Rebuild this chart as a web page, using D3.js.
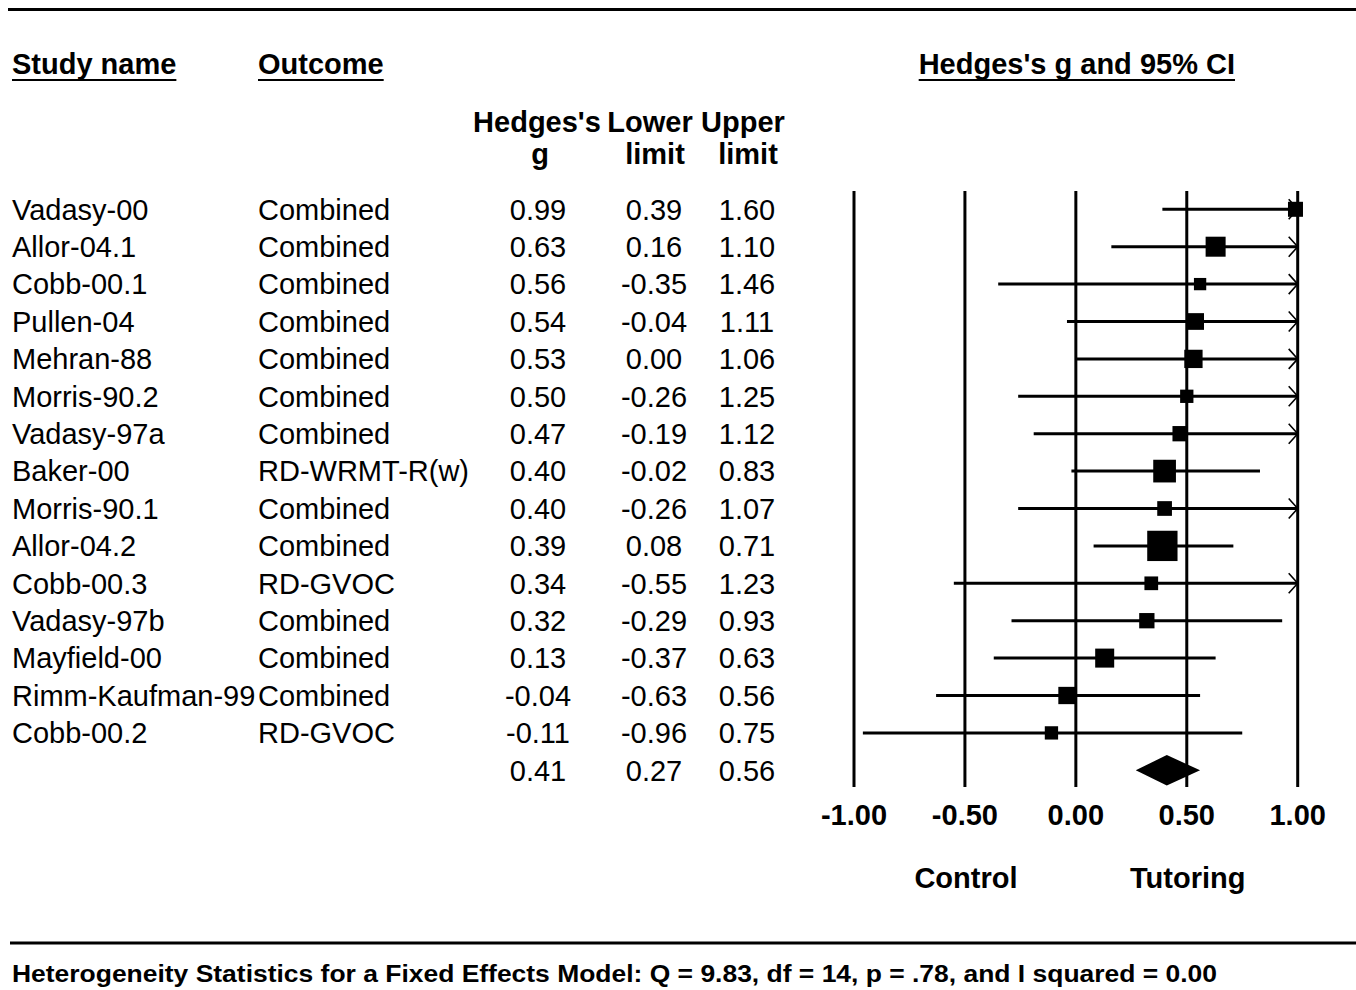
<!DOCTYPE html>
<html>
<head>
<meta charset="utf-8">
<script src="https://cdn.jsdelivr.net/npm/d3@7"></script>
<style>
  html, body { margin: 0; padding: 0; background: #fff; }
  svg { display: block; font-family: "Liberation Sans", Arial, Helvetica, sans-serif; }
</style>
</head>
<body>
<svg id="chart" width="1356" height="990"></svg>
<script>
// ---- data ----
const studies = ["Vadasy-00","Allor-04.1","Cobb-00.1","Pullen-04","Mehran-88","Morris-90.2","Vadasy-97a","Baker-00","Morris-90.1","Allor-04.2","Cobb-00.3","Vadasy-97b","Mayfield-00","Rimm-Kaufman-99","Cobb-00.2"];
const outcomes = ["Combined","Combined","Combined","Combined","Combined","Combined","Combined","RD-WRMT-R(w)","Combined","Combined","RD-GVOC","Combined","Combined","Combined","RD-GVOC"];
const hedgesG = [0.99,0.63,0.56,0.54,0.53,0.50,0.47,0.40,0.40,0.39,0.34,0.32,0.13,-0.04,-0.11];
const lowerLimit = [0.39,0.16,-0.35,-0.04,0.00,-0.26,-0.19,-0.02,-0.26,0.08,-0.55,-0.29,-0.37,-0.63,-0.96];
const upperLimit = [1.60,1.10,1.46,1.11,1.06,1.25,1.12,0.83,1.07,0.71,1.23,0.93,0.63,0.56,0.75];
// relative weights (%)
const weights = [4.78,8.49,3.21,5.92,7.11,3.76,4.97,10.94,4.59,19.49,3.99,4.97,7.67,6.35,3.76];
const summary = {g: 0.41, lower: 0.27, upper: 0.56};
const axisTicks = [-1.00,-0.50,0.00,0.50,1.00];
const headerCols = ["Study name","Outcome"];
const statHeaders = [["Hedges's","g"],["Lower","limit"],["Upper","limit"]];
const plotTitle = "Hedges's g and 95% CI";
const sideLabels = ["Control","Tutoring"];
const sideValues = [-0.5, 0.5];
const footer = "Heterogeneity Statistics for a Fixed Effects Model: Q = 9.83, df = 14, p = .78, and I squared = 0.00";

// ---- layout ----
const svg = d3.select("#chart");
const fmt0 = d3.format(".2f");
const fmt = v => fmt0(v).replace("\u2212", "-");
const x = d3.scaleLinear().domain([-1, 1]).range([854, 1297.7]);
const nRows = studies.length + 1;
const y = d3.scaleLinear().domain([0, nRows - 1]).range([209.3, 209.3 + 37.4 * (nRows - 1)]);
const boxSize = d3.scaleSqrt().domain([0, 19.49]).range([0, 30.3]);
const colX = {study: 12, outcome: 258, g: 538, lower: 654, upper: 747};
const FS = 29;

// horizontal rules
svg.append("line").attr("x1", 8).attr("x2", 1356).attr("y1", 9.5).attr("y2", 9.5)
  .attr("stroke", "#000").attr("stroke-width", 3);
svg.append("line").attr("x1", 10).attr("x2", 1356).attr("y1", 943).attr("y2", 943)
  .attr("stroke", "#000").attr("stroke-width", 3);

// column headers (underlined)
function underlinedText(txt, xx, yy, anchor) {
  const t = svg.append("text").attr("x", xx).attr("y", yy).attr("font-size", FS)
    .attr("font-weight", "bold").attr("text-anchor", anchor).text(txt);
  const bb = t.node().getBBox();
  svg.append("line").attr("x1", bb.x).attr("x2", bb.x + bb.width)
    .attr("y1", yy + 6).attr("y2", yy + 6).attr("stroke", "#000").attr("stroke-width", 2);
}
underlinedText(headerCols[0], colX.study, 74, "start");
underlinedText(headerCols[1], colX.outcome, 74, "start");
underlinedText(plotTitle, x(0) + 1, 74, "middle");

const statX = [colX.g - 1, colX.lower - 4, colX.upper - 4];
const statX2 = [colX.g + 2, colX.lower + 1, colX.upper + 1];
statHeaders.forEach((h, i) => {
  svg.append("text").attr("x", statX[i]).attr("y", 132).attr("font-size", FS)
    .attr("font-weight", "bold").attr("text-anchor", "middle").text(h[0]);
  svg.append("text").attr("x", statX2[i]).attr("y", 164).attr("font-size", FS)
    .attr("font-weight", "bold").attr("text-anchor", "middle").text(h[1]);
});

// gridlines
const gridTop = 191, gridBottom = 787;
svg.append("g").selectAll("line").data(axisTicks).join("line")
  .attr("x1", d => x(d)).attr("x2", d => x(d))
  .attr("y1", gridTop).attr("y2", gridBottom)
  .attr("stroke", "#000").attr("stroke-width", 3);

// axis labels
svg.append("g").selectAll("text").data(axisTicks).join("text")
  .attr("x", d => x(d)).attr("y", 825).attr("font-size", FS).attr("font-weight", "bold")
  .attr("text-anchor", "middle").text(d => fmt(d));

svg.append("g").selectAll("text").data(sideLabels).join("text")
  .attr("x", (d, i) => x(sideValues[i]) + 1).attr("y", 888)
  .attr("font-size", FS).attr("font-weight", "bold").attr("text-anchor", "middle").text(d => d);

// rows
const rows = studies.map((s, i) => ({
  study: s, outcome: outcomes[i], g: hedgesG[i], lo: lowerLimit[i], hi: upperLimit[i], w: weights[i], i
}));

const rowText = svg.append("g").attr("font-size", FS);
rows.forEach(r => {
  const yy = y(r.i) + 10.3;
  rowText.append("text").attr("x", colX.study).attr("y", yy).text(r.study);
  rowText.append("text").attr("x", colX.outcome).attr("y", yy).text(r.outcome);
  rowText.append("text").attr("x", colX.g).attr("y", yy).attr("text-anchor", "middle").text(fmt(r.g));
  rowText.append("text").attr("x", colX.lower).attr("y", yy).attr("text-anchor", "middle").text(fmt(r.lo));
  rowText.append("text").attr("x", colX.upper).attr("y", yy).attr("text-anchor", "middle").text(fmt(r.hi));
});
// summary row values
const sy = y(nRows - 1) + 10.3;
rowText.append("text").attr("x", colX.g).attr("y", sy).attr("text-anchor", "middle").text(fmt(summary.g));
rowText.append("text").attr("x", colX.lower).attr("y", sy).attr("text-anchor", "middle").text(fmt(summary.lower));
rowText.append("text").attr("x", colX.upper).attr("y", sy).attr("text-anchor", "middle").text(fmt(summary.upper));

// CI lines
const [dmin, dmax] = x.domain();
const clamp = v => Math.max(dmin, Math.min(dmax, v));
const marks = svg.append("g");
rows.forEach(r => {
  const yy = y(r.i);
  marks.append("line").attr("x1", x(clamp(r.lo))).attr("x2", x(clamp(r.hi)))
    .attr("y1", yy).attr("y2", yy).attr("stroke", "#000").attr("stroke-width", 3);
  if (r.hi > dmax) {
    const ax = x(dmax);
    marks.append("path").attr("d", `M${ax - 9},${yy - 10}L${ax},${yy}L${ax - 9},${yy + 10}`)
      .attr("fill", "none").attr("stroke", "#000").attr("stroke-width", 1.6);
  }
  if (r.lo < dmin) {
    const ax = x(dmin);
    marks.append("path").attr("d", `M${ax + 9},${yy - 10}L${ax},${yy}L${ax + 9},${yy + 10}`)
      .attr("fill", "none").attr("stroke", "#000").attr("stroke-width", 1.6);
  }
  const s = boxSize(r.w);
  marks.append("rect").attr("x", x(r.g) - s / 2).attr("y", yy - s / 2)
    .attr("width", s).attr("height", s).attr("fill", "#000");
});

// summary diamond
const dy = y(nRows - 1);
marks.append("path")
  .attr("d", `M${x(summary.lower)},${dy}L${x(summary.g)},${dy - 15.3}L${x(summary.upper)},${dy}L${x(summary.g)},${dy + 15.3}Z`)
  .attr("fill", "#000");

// footer
svg.append("text").attr("x", 12).attr("y", 982).attr("font-size", 23.5).attr("font-weight", "bold")
  .attr("textLength", 1205).attr("lengthAdjust", "spacingAndGlyphs").text(footer);
</script>
</body>
</html>
